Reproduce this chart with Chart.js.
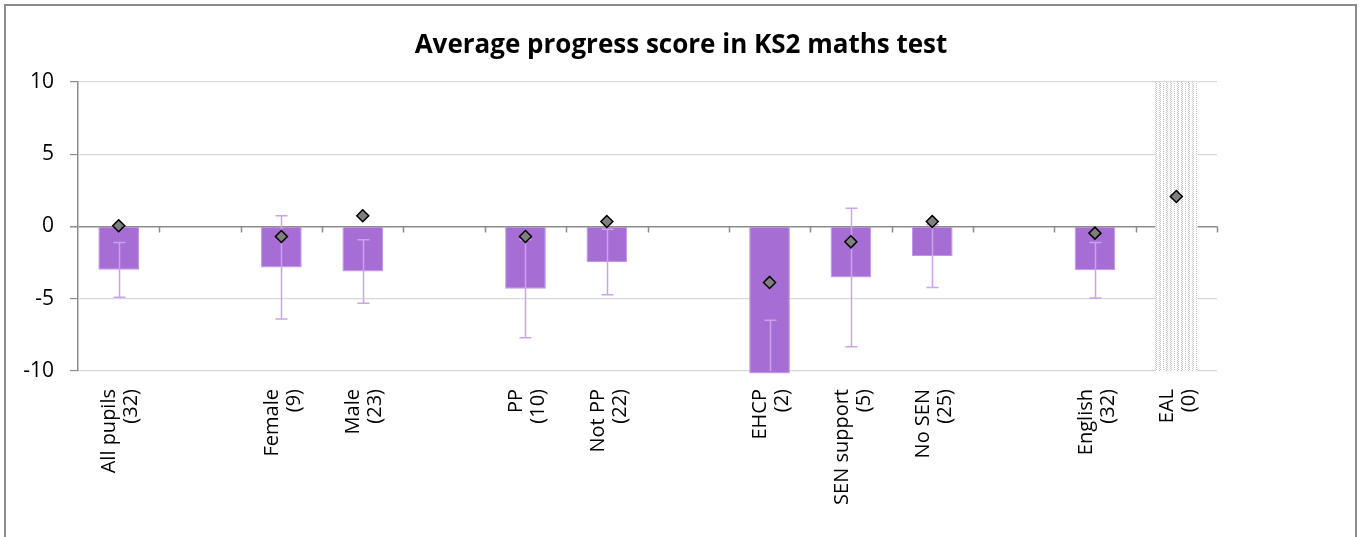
<!DOCTYPE html>
<html>
<head>
<meta charset="utf-8">
<title>Average progress score in KS2 maths test</title>
<script src="https://cdn.jsdelivr.net/npm/chart.js@4.4.0/dist/chart.umd.min.js"></script>
<style>
  html, body { margin: 0; padding: 0; background: #fff; overflow: hidden; }
  #frame {
    position: absolute; left: 4px; top: 4px; width: 1353px; height: 600px;
    border: 2px solid #8c8c8c; box-sizing: border-box;
  }
  #wrap { position: absolute; left: 0; top: 0; width: 1362px; height: 537px; }
</style>
</head>
<body>
<div id="frame"></div>
<div id="wrap"><canvas id="chart"></canvas></div>
<script>
// pupil groups, with blank slots between the groupings
const labels = [
  ["All pupils", "(32)"], "",
  ["Female", "(9)"], ["Male", "(23)"], "",
  ["PP", "(10)"], ["Not PP", "(22)"], "",
  ["EHCP", "(2)"], ["SEN support", "(5)"], ["No SEN", "(25)"], "",
  ["English", "(32)"], ["EAL", "(0)"]
];

// average progress score per group
const scores = [-3.0, null, -2.83, -3.11, null, -4.31, -2.46, null, -10.17, -3.53, -2.05, null, -3.02, null];

// half-width of the confidence interval around each score
const confidence = [1.9, null, 3.57, 2.2, null, 3.39, 2.27, null, 3.69, 4.8, 2.17, null, 1.92, null];

// national comparison (diamonds)
const national = [0.05, null, -0.69, 0.74, null, -0.69, 0.35, null, -3.87, -1.06, 0.35, null, -0.46, 2.08];

// groups with no pupils are shaded over the full axis range
const noPupils = [null, null, null, null, null, null, null, null, null, null, null, null, null, [-10, 10]];

const yMin = -10;
const yMax = 10;
const yStep = 5;

const FONT = "'Open Sans', 'Noto Sans', sans-serif";

// dotted grey fill for the empty group
function dottedPattern() {
  const c = document.createElement("canvas");
  c.width = 11;
  c.height = 2;
  const g = c.getContext("2d");
  g.fillStyle = "#fff";
  g.fillRect(0, 0, 11, 2);
  g.fillStyle = "#c4c4c4";
  [[0, 0], [1, 1], [4, 0], [5, 1], [8, 1]].forEach(([px, py]) => g.fillRect(px, py, 1, 1));
  return g.createPattern(c, "repeat");
}

// zero line tick marks between categories
const zeroTicks = {
  id: "zeroTicks",
  beforeDatasetsDraw(chart) {
    const { ctx, scales: { x, y } } = chart;
    const y0 = y.getPixelForValue(0);
    ctx.save();
    ctx.strokeStyle = "#8c8c8c";
    ctx.lineWidth = 1.5;
    ctx.beginPath();
    for (let i = 0; i < labels.length; i++) {
      const px = Math.round(x.getPixelForValue(i + 0.5)) + 0.5;
      ctx.moveTo(px, y0);
      ctx.lineTo(px, y0 + 6);
    }
    ctx.stroke();
    ctx.restore();
  },
};

// confidence interval whiskers on top of the score bars
const errorBars = {
  id: "errorBars",
  afterDatasetDraw(chart, args) {
    if (args.index !== 0) return;
    const { ctx, chartArea, scales: { x, y } } = chart;
    ctx.save();
    ctx.beginPath();
    ctx.rect(chartArea.left, chartArea.top, chartArea.width, chartArea.height);
    ctx.clip();
    ctx.strokeStyle = "#c9a3ec";
    ctx.lineWidth = 1.5;
    scores.forEach((v, i) => {
      if (v === null) return;
      const px = Math.round(x.getPixelForValue(i)) + 0.5;
      const top = y.getPixelForValue(v + confidence[i]);
      const bottom = y.getPixelForValue(v - confidence[i]);
      ctx.beginPath();
      ctx.moveTo(px, top);
      ctx.lineTo(px, bottom);
      ctx.moveTo(px - 6, top);
      ctx.lineTo(px + 6, top);
      ctx.moveTo(px - 6, bottom);
      ctx.lineTo(px + 6, bottom);
      ctx.stroke();
    });
    ctx.restore();
  },
};

new Chart(document.getElementById("chart"), {
  type: "bar",
  data: {
    labels: labels,
    datasets: [
      {
        label: "Progress score",
        data: scores,
        order: 2,
        grouped: false,
        backgroundColor: "#a66dd4",
        borderColor: "#bf94ea",
        borderWidth: 1,
        barPercentage: 0.5,
        categoryPercentage: 1,
        clip: false,
      },
      {
        label: "No pupils",
        data: noPupils,
        order: 3,
        grouped: false,
        backgroundColor: dottedPattern(),
        borderWidth: 0,
        barPercentage: 0.52,
        categoryPercentage: 1,
      },
      {
        label: "National",
        type: "line",
        data: national,
        order: 0,
        showLine: false,
        pointStyle: "rectRot",
        pointRadius: 6,
        pointBackgroundColor: "#7f7f7f",
        pointBorderColor: "#000",
        pointBorderWidth: 1.5,
      },
    ],
  },
  options: {
    responsive: true,
    maintainAspectRatio: false,
    animation: false,
    events: [],
    layout: { padding: 0 },
    plugins: {
      legend: { display: false },
      tooltip: { enabled: false },
      title: {
        display: true,
        text: "Average progress score in KS2 maths test",
        color: "#000",
        font: { family: FONT, size: 26, weight: "bold", lineHeight: 1.2 },
        padding: { top: 30.4, bottom: 20.4 },
      },
    },
    scales: {
      x: {
        grid: { display: false },
        border: { display: false },
        ticks: {
          autoSkip: false,
          minRotation: 90,
          maxRotation: 90,
          padding: 10,
          labelOffset: -9,
          color: "#000",
          font: { family: FONT, size: 20, lineHeight: 1.1 },
        },
        afterFit(scale) { scale.height = 166; },
      },
      y: {
        min: yMin,
        max: yMax,
        ticks: {
          stepSize: yStep,
          padding: 16,
          color: "#000",
          font: { family: FONT, size: 21 },
        },
        grid: {
          color: (c) => (c.tick && c.tick.value === 0 ? "#8c8c8c" : "#d9d9d9"),
          lineWidth: (c) => (c.tick && c.tick.value === 0 ? 1.5 : 1.2),
          tickColor: "#8c8c8c",
          tickLength: 8,
        },
        border: { color: "#8c8c8c", width: 1.5 },
        afterFit(scale) { scale.width = 78; },
      },
      // empty strip on the right of the plot
      spacer: {
        position: "right",
        grid: { display: false },
        border: { display: false },
        ticks: { display: false },
        afterFit(scale) { scale.width = 145; },
      },
    },
  },
  plugins: [zeroTicks, errorBars],
});
</script>
</body>
</html>
